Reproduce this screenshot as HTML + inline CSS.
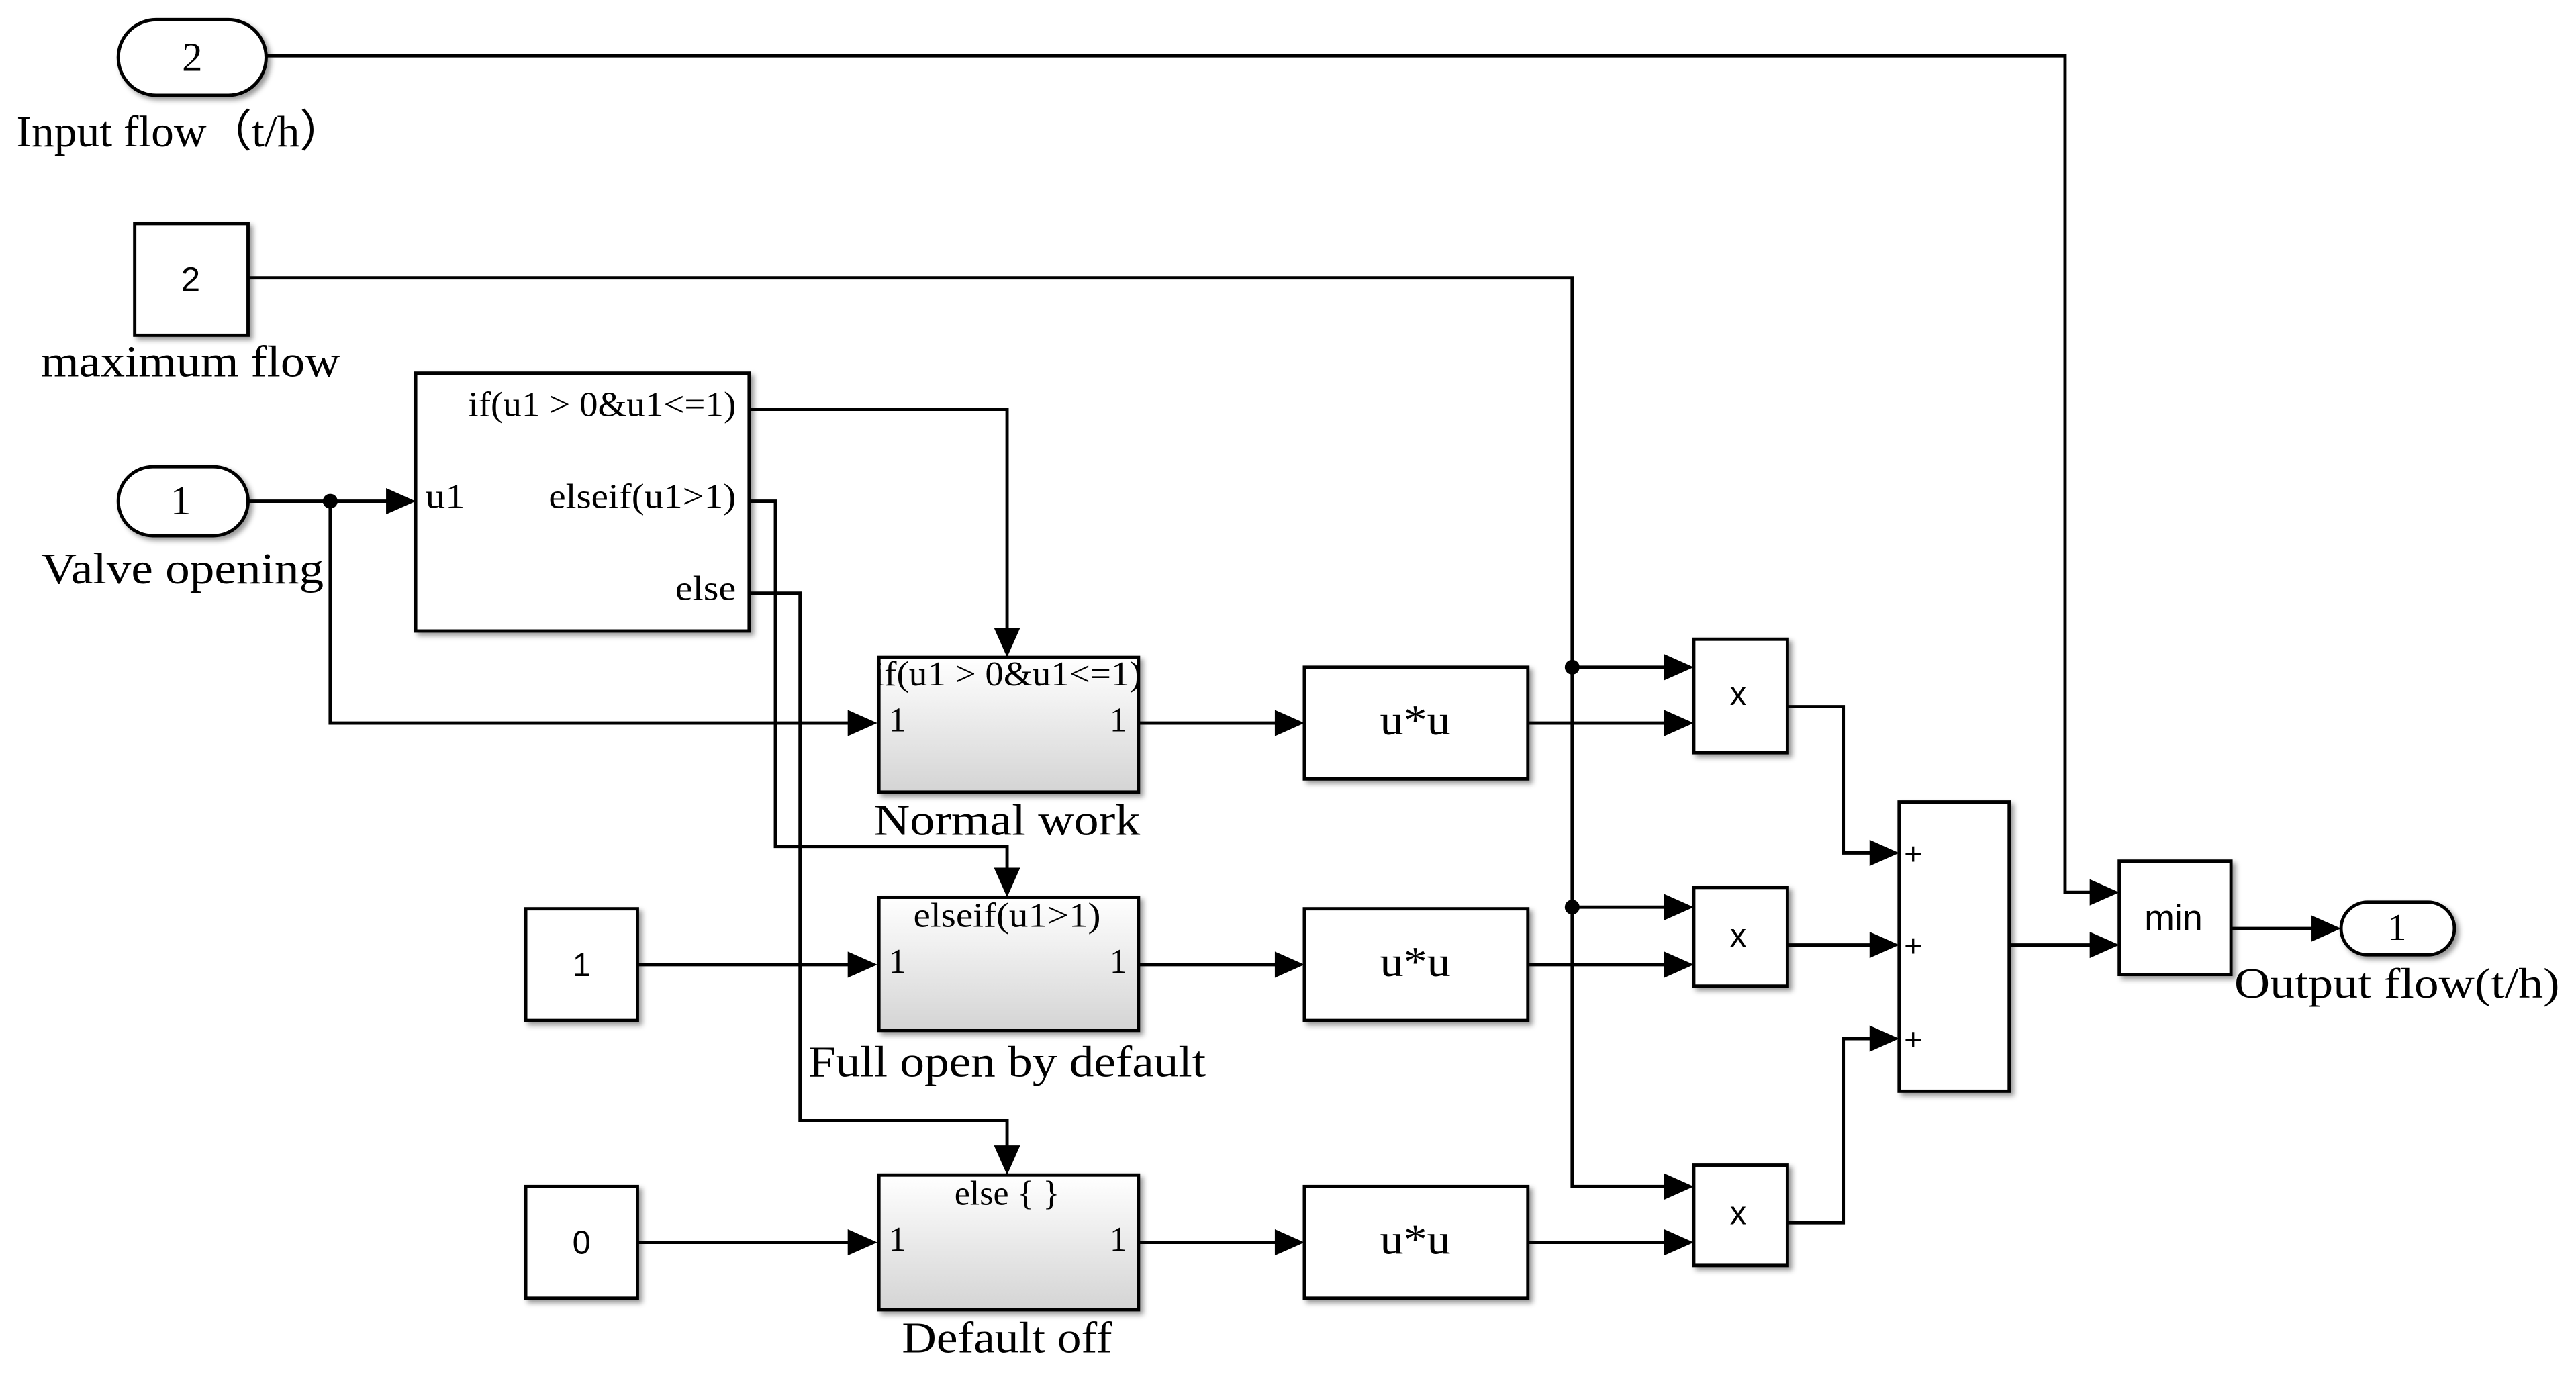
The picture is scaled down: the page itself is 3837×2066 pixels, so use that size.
<!DOCTYPE html>
<html><head><meta charset="utf-8"><style>
html,body{margin:0;padding:0;background:#fff;}
svg{display:block;}
text{font-family:"Liberation Serif",serif;fill:#000;}
.s{font-family:"Liberation Sans",sans-serif;}
</style></head><body>
<svg width="3837" height="2066" viewBox="0 0 1568 844" preserveAspectRatio="none" xmlns="http://www.w3.org/2000/svg">
<defs>
<linearGradient id="g" x1="0" y1="0" x2="0" y2="1"><stop offset="0" stop-color="#fff"/><stop offset="1" stop-color="#d4d4d4"/></linearGradient>
<filter id="sh" x="-10%" y="-10%" width="130%" height="130%"><feDropShadow dx="2" dy="2" stdDeviation="1.5" flood-color="#000" flood-opacity="0.4"/></filter>
</defs>
<style>
.l{fill:none;stroke:#000;stroke-width:2;}
.b{fill:#fff;stroke:#000;stroke-width:2;filter:url(#sh);}
.gb{fill:url(#g);stroke:#000;stroke-width:2;filter:url(#sh);}
</style>
<g class="l">
<path d="M162,34 H1257 V543 H1278"/>
<path d="M151,169 H957 V722 H1019"/>
<path d="M957,406 H1019"/>
<path d="M957,552 H1019"/>
<path d="M151,305 H241"/>
<path d="M201,305 V440 H522"/>
<path d="M456,249 H613 V388"/>
<path d="M456,305 H472 V515 H613 V534"/>
<path d="M456,361 H487 V682 H613 V703"/>
<path d="M388,587 H522"/>
<path d="M388,756 H522"/>
<path d="M693,440 H782"/><path d="M693,587 H782"/><path d="M693,756 H782"/>
<path d="M930,440 H1019"/><path d="M930,587 H1019"/><path d="M930,756 H1019"/>
<path d="M1088,430 H1122 V519 H1144"/>
<path d="M1088,575 H1144"/>
<path d="M1088,744 H1122 V632 H1144"/>
<path d="M1223,575 H1278"/>
<path d="M1358,565 H1413"/>
</g>
<g fill="#000">
<circle cx="201" cy="305" r="4.5"/><circle cx="957" cy="406" r="4.5"/><circle cx="957" cy="552" r="4.5"/>
<polygon points="253,305 235,297 235,313"/>
<polygon points="534,440 516,432 516,448"/>
<polygon points="534,587 516,579 516,595"/>
<polygon points="534,756 516,748 516,764"/>
<polygon points="794,440 776,432 776,448"/>
<polygon points="794,587 776,579 776,595"/>
<polygon points="794,756 776,748 776,764"/>
<polygon points="1031,406 1013,398 1013,414"/>
<polygon points="1031,440 1013,432 1013,448"/>
<polygon points="1031,552 1013,544 1013,560"/>
<polygon points="1031,587 1013,579 1013,595"/>
<polygon points="1031,722 1013,714 1013,730"/>
<polygon points="1031,756 1013,748 1013,764"/>
<polygon points="1156,519 1138,511 1138,527"/>
<polygon points="1156,575 1138,567 1138,583"/>
<polygon points="1156,632 1138,624 1138,640"/>
<polygon points="1290,543 1272,535 1272,551"/>
<polygon points="1290,575 1272,567 1272,583"/>
<polygon points="1425,565 1407,557 1407,573"/>
<polygon points="613,400 605,382 621,382"/>
<polygon points="613,546 605,528 621,528"/>
<polygon points="613,715 605,697 621,697"/>
</g>
<rect class="b" x="72" y="12" width="90" height="46" rx="23"/>
<text x="117" y="43" font-size="25" text-anchor="middle">2</text>
<text x="10" y="89" font-size="27" textLength="200" lengthAdjust="spacingAndGlyphs">Input flow（t/h）</text>
<rect class="b" x="82" y="136" width="69" height="68"/>
<text class="s" x="116" y="177" font-size="21" text-anchor="middle">2</text>
<text x="25" y="229" font-size="27" textLength="182" lengthAdjust="spacingAndGlyphs">maximum flow</text>
<rect class="b" x="72" y="284" width="79" height="42" rx="21"/>
<text x="110" y="313" font-size="25" text-anchor="middle">1</text>
<text x="25" y="355" font-size="27" textLength="172" lengthAdjust="spacingAndGlyphs">Valve opening</text>
<rect class="b" x="253" y="227" width="203" height="157"/>
<text x="285" y="253" font-size="21" textLength="163" lengthAdjust="spacingAndGlyphs">if(u1 &gt; 0&amp;u1&lt;=1)</text>
<text x="259" y="309" font-size="21" textLength="24" lengthAdjust="spacingAndGlyphs">u1</text>
<text x="334" y="309" font-size="21" textLength="114" lengthAdjust="spacingAndGlyphs">elseif(u1&gt;1)</text>
<text x="411" y="365" font-size="21" textLength="37" lengthAdjust="spacingAndGlyphs">else</text>
<rect class="gb" x="535" y="400" width="158" height="82"/>
<svg x="535" y="400" width="158" height="30" overflow="hidden"><text x="-3" y="17" font-size="21" textLength="163" lengthAdjust="spacingAndGlyphs">if(u1 &gt; 0&amp;u1&lt;=1)</text></svg>
<text x="541" y="445" font-size="21">1</text><text x="686" y="445" font-size="21" text-anchor="end">1</text>
<text x="532" y="508" font-size="27" textLength="162" lengthAdjust="spacingAndGlyphs">Normal work</text>
<rect class="gb" x="535" y="546" width="158" height="81"/>
<text x="556" y="564" font-size="21" textLength="114" lengthAdjust="spacingAndGlyphs">elseif(u1&gt;1)</text>
<text x="541" y="592" font-size="21">1</text><text x="686" y="592" font-size="21" text-anchor="end">1</text>
<text x="492" y="655" font-size="27" textLength="242" lengthAdjust="spacingAndGlyphs">Full open by default</text>
<rect class="gb" x="535" y="715" width="158" height="82"/>
<text x="581" y="733" font-size="21" textLength="64" lengthAdjust="spacingAndGlyphs">else { }</text>
<text x="541" y="761" font-size="21">1</text><text x="686" y="761" font-size="21" text-anchor="end">1</text>
<text x="549" y="823" font-size="27" textLength="128" lengthAdjust="spacingAndGlyphs">Default off</text>
<rect class="b" x="320" y="553" width="68" height="68"/>
<text class="s" x="354" y="594" font-size="20" text-anchor="middle">1</text>
<rect class="b" x="320" y="722" width="68" height="68"/>
<text class="s" x="354" y="763" font-size="20" text-anchor="middle">0</text>
<rect class="b" x="794" y="406" width="136" height="68"/>
<text x="840" y="447" font-size="26" textLength="43" lengthAdjust="spacingAndGlyphs">u*u</text>
<rect class="b" x="794" y="553" width="136" height="68"/>
<text x="840" y="594" font-size="26" textLength="43" lengthAdjust="spacingAndGlyphs">u*u</text>
<rect class="b" x="794" y="722" width="136" height="68"/>
<text x="840" y="763" font-size="26" textLength="43" lengthAdjust="spacingAndGlyphs">u*u</text>
<rect class="b" x="1031" y="389" width="57" height="69"/>
<text class="s" x="1058" y="429" font-size="20" text-anchor="middle">x</text>
<rect class="b" x="1031" y="540" width="57" height="60"/>
<text class="s" x="1058" y="576" font-size="20" text-anchor="middle">x</text>
<rect class="b" x="1031" y="709" width="57" height="61"/>
<text class="s" x="1058" y="745" font-size="20" text-anchor="middle">x</text>
<rect class="b" x="1156" y="488" width="67" height="176"/>
<text class="s" x="1159" y="526" font-size="19">+</text>
<text class="s" x="1159" y="582" font-size="19">+</text>
<text class="s" x="1159" y="639" font-size="19">+</text>
<rect class="b" x="1290" y="524" width="68" height="69"/>
<text class="s" x="1323" y="566" font-size="22" text-anchor="middle">min</text>
<rect class="b" x="1425" y="549" width="69" height="32" rx="16"/>
<text x="1459" y="572" font-size="23" text-anchor="middle">1</text>
<text x="1360" y="607" font-size="26" textLength="198" lengthAdjust="spacingAndGlyphs">Output flow(t/h)</text>
</svg>
</body></html>
